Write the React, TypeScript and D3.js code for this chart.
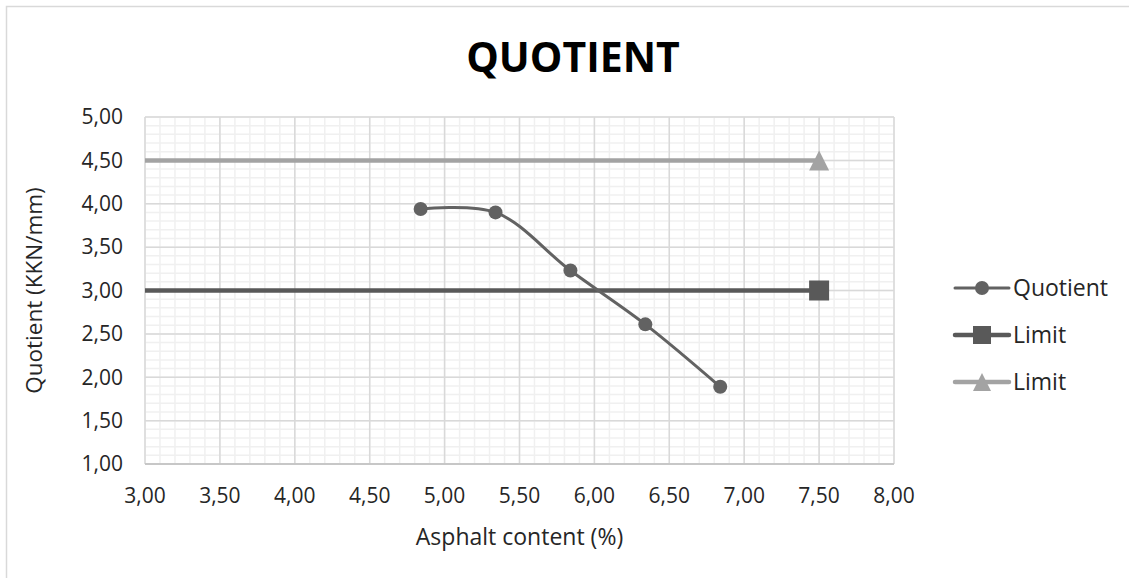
import React from "react";
import * as d3 from "d3";

const quotientX = [4.84, 5.34, 5.84, 6.34, 6.84];
const quotientY = [3.94, 3.90, 3.23, 2.61, 1.89];
const limitX = [3.0, 7.5];
const limitLowY = [3.0, 3.0];
const limitHighY = [4.5, 4.5];
const xTicks = [3.0, 3.5, 4.0, 4.5, 5.0, 5.5, 6.0, 6.5, 7.0, 7.5, 8.0];
const yTicks = [1.0, 1.5, 2.0, 2.5, 3.0, 3.5, 4.0, 4.5, 5.0];
const legendLabels = ["Quotient", "Limit", "Limit"];

const W = 1129;
const H = 578;
const FONT = "'Open Sans', sans-serif";
const fmt = (v: number) => v.toFixed(2).replace(".", ",");

export default function App() {
  const left = 145, right = 894, top = 117, bottom = 464;
  const x = d3.scaleLinear().domain([3, 8]).range([left, right]);
  const y = d3.scaleLinear().domain([1, 5]).range([bottom, top]);

  const minorX = d3.range(30, 81).map((v) => v / 10);
  const minorY = d3.range(10, 51).map((v) => v / 10);

  const line = d3
    .line<[number, number]>()
    .x((d) => x(d[0]))
    .y((d) => y(d[1]));
  const smooth = d3
    .line<[number, number]>()
    .x((d) => x(d[0]))
    .y((d) => y(d[1]))
    .curve(d3.curveCatmullRom.alpha(0.5));

  const qPts: [number, number][] = quotientX.map((v, i) => [v, quotientY[i]]);
  const lowPts: [number, number][] = limitX.map((v, i) => [v, limitLowY[i]]);
  const highPts: [number, number][] = limitX.map((v, i) => [v, limitHighY[i]]);

  const cQ = "#626262";
  const cLow = "#595959";
  const cHigh = "#a3a3a3";

  const tri = (cx: number, cy: number, s: number) =>
    `M${cx},${cy - s / 2}L${cx + s / 2},${cy + s / 2}L${cx - s / 2},${cy + s / 2}Z`;

  const legendY = [288, 335, 382];
  const lx0 = 955, lx1 = 1009, lmx = 982;

  return (
    <svg
      width={W}
      height={H}
      style={{ position: "fixed", left: 0, top: 0, background: "#fff" }}
      fontFamily={FONT}
    >
      <rect x={6.5} y={6.5} width={W + 10} height={H + 10} fill="#fff" stroke="#d9d9d9" strokeWidth={1.5} />
      <text x={573} y={71.5} textAnchor="middle" fontSize={41} fontWeight="bold" fill="#000">
        QUOTIENT
      </text>

      {minorX.map((v, i) => (
        <line key={"mx" + i} x1={x(v)} x2={x(v)} y1={top} y2={bottom} stroke="#f0f0f0" strokeWidth={1.5} />
      ))}
      {minorY.map((v, i) => (
        <line key={"my" + i} x1={left} x2={right} y1={y(v)} y2={y(v)} stroke="#f0f0f0" strokeWidth={1.5} />
      ))}
      {xTicks.map((v, i) => (
        <line key={"gx" + i} x1={x(v)} x2={x(v)} y1={top} y2={bottom} stroke="#d9d9d9" strokeWidth={1.5} />
      ))}
      {yTicks.map((v, i) => (
        <line key={"gy" + i} x1={left} x2={right} y1={y(v)} y2={y(v)} stroke="#d9d9d9" strokeWidth={1.5} />
      ))}
      <line x1={left} x2={right} y1={bottom} y2={bottom} stroke="#bfbfbf" strokeWidth={1.5} />

      {xTicks.map((v, i) => (
        <text key={"tx" + i} x={x(v)} y={503} textAnchor="middle" fontSize={21} fill="#262626">
          {fmt(v)}
        </text>
      ))}
      {yTicks.map((v, i) => (
        <text key={"ty" + i} x={123} y={y(v)} dy="0.35em" textAnchor="end" fontSize={21} fill="#262626">
          {fmt(v)}
        </text>
      ))}
      <text x={(left + right) / 2} y={545} textAnchor="middle" fontSize={23} fill="#262626">
        Asphalt content (%)
      </text>
      <text
        transform={`translate(42,${(top + bottom) / 2}) rotate(-90)`}
        textAnchor="middle"
        fontSize={22.5}
        fill="#262626"
      >
        Quotient (KKN/mm)
      </text>

      <path d={line(highPts) || ""} fill="none" stroke={cHigh} strokeWidth={4.5} />
      <path d={tri(x(limitX[1]), y(limitHighY[1]), 20)} fill={cHigh} />
      <path d={line(lowPts) || ""} fill="none" stroke={cLow} strokeWidth={4.5} />
      <rect x={x(limitX[1]) - 10} y={y(limitLowY[1]) - 10} width={20} height={20} fill={cLow} />

      <path d={smooth(qPts) || ""} fill="none" stroke={cQ} strokeWidth={3} />
      {qPts.map((p, i) => (
        <circle key={"q" + i} cx={x(p[0])} cy={y(p[1])} r={7} fill={cQ} />
      ))}

      {/* legend */}
      <line x1={lx0} x2={lx1} y1={legendY[0]} y2={legendY[0]} stroke={cQ} strokeWidth={3} strokeLinecap="round" />
      <circle cx={lmx} cy={legendY[0]} r={7} fill={cQ} />
      <line x1={lx0} x2={lx1} y1={legendY[1]} y2={legendY[1]} stroke={cLow} strokeWidth={4.5} strokeLinecap="round" />
      <rect x={lmx - 9} y={legendY[1] - 9} width={18} height={18} fill={cLow} />
      <line x1={lx0} x2={lx1} y1={legendY[2]} y2={legendY[2]} stroke={cHigh} strokeWidth={4.5} strokeLinecap="round" />
      <path d={tri(lmx, legendY[2], 18)} fill={cHigh} />
      {legendLabels.map((t, i) => (
        <text key={"lg" + i} x={1013} y={legendY[i]} dy="0.35em" fontSize={23} fill="#262626">
          {t}
        </text>
      ))}
    </svg>
  );
}
